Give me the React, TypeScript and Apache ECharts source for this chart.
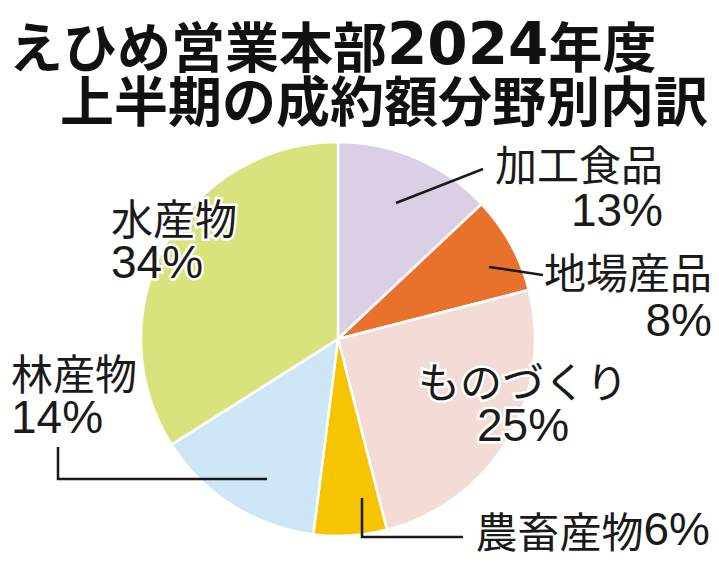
import React, { useEffect, useRef } from 'react';
import * as echarts from 'echarts';

const titleLines = ['えひめ営業本部2024年度', '上半期の成約額分野別内訳'];
const categories = ['加工食品', '地場産品', 'ものづくり', '農畜産物', '林産物', '水産物'];
const shares = [13, 8, 25, 6, 14, 34];
const sliceColors = ['#dbcfe5', '#e8722b', '#f2dcd5', '#f6c500', '#cde7f7', '#d9e37d'];

const CJK = "'Noto Sans CJK JP', sans-serif";
const NUM = "'Liberation Sans', 'Noto Sans CJK JP', sans-serif";
const TNUM = "'DejaVu Sans', 'Noto Sans CJK JP', sans-serif";

// label anchor / leader-line layout (styling only)
const labelBoxes: any[] = [
  { x: 663, y: 138, lh: 48, align: 'right', v: 'top', line: [[396, 203], [483, 169]] },
  { x: 712, y: 246, lh: 49, align: 'right', v: 'top', line: [[489, 267], [543, 275]] },
  { x: 523, y: 356, lh: 46, align: 'center', v: 'top' },
  { x: 710, y: 529, lh: 46, align: 'right', v: 'middle', line: [[362, 498], [362, 537], [463, 537]] },
  { x: 11, y: 348, lh: 46, align: 'left', v: 'top', line: [[58, 447], [58, 479], [267, 479]] },
  { x: 111, y: 194, lh: 45, align: 'left', v: 'top' },
];

function richTitle(s: string) {
  return s
    .split(/(\d+)/)
    .filter((p) => p.length)
    .map((p) => (/^\d+$/.test(p) ? `{d|${p}}` : `{a|${p}}`))
    .join('');
}

export default function App() {
  const ref = useRef<HTMLDivElement>(null);
  useEffect(() => {
    document.body.style.margin = '0';
    const chart = echarts.init(ref.current!, null, { renderer: 'svg' });
    const titleRich = {
      a: { fontFamily: CJK, fontWeight: 'bold', fontSize: 54, color: '#111', lineHeight: 52 },
      d: { fontFamily: TNUM, fontWeight: 'bold', fontSize: 58, color: '#111', lineHeight: 52 },
    };
    const data = categories.map((name, i) => {
      const box = labelBoxes[i];
      const single = i === 3;
      return {
        name,
        value: shares[i],
        itemStyle: { color: sliceColors[i] },
        label: {
          align: box.align,
          formatter: single ? `{n|${name}}{p|${shares[i]}%}` : `{n|${name}}\n{p|${shares[i]}%}`,
          rich: {
            n: { fontFamily: CJK, fontSize: 42, color: '#1a1a1a', lineHeight: box.lh, align: box.align, textBorderColor: '#fff', textBorderWidth: 5 },
            p: { fontFamily: NUM, fontSize: 46, color: '#1a1a1a', lineHeight: box.lh, align: box.align, textBorderColor: '#fff', textBorderWidth: 5 },
          },
        },
        labelLine: { show: false },
      };
    });
    const leaders = labelBoxes
      .filter((b) => b.line)
      .map((b) => ({
        type: 'polyline',
        z: 100,
        shape: { points: b.line },
        style: { stroke: '#1a1a1a', lineWidth: 2.5, fill: null },
        silent: true,
      }));
    chart.setOption({
      animation: false,
      backgroundColor: '#fff',
      title: [
        { text: richTitle(titleLines[0]), left: 9, top: 18, padding: 0, textStyle: { rich: titleRich } },
        { text: richTitle(titleLines[1]), left: 60, top: 72, padding: 0, textStyle: { rich: titleRich } },
      ],
      graphic: leaders,
      series: [
        {
          type: 'pie',
          center: [338, 339],
          radius: 197,
          startAngle: 90,
          clockwise: true,
          avoidLabelOverlap: false,
          itemStyle: { borderColor: '#fff', borderWidth: 2.5 },
          label: { show: true, position: 'outside', color: '#1a1a1a' },
          emphasis: { disabled: true },
          labelLayout: (params: any) => {
            const b = labelBoxes[params.dataIndex];
            return { x: b.x, y: b.y, align: b.align, verticalAlign: b.v };
          },
          data,
        },
      ],
    });
    return () => chart.dispose();
  }, []);
  return <div ref={ref} style={{ width: 719, height: 563 }} />;
}
